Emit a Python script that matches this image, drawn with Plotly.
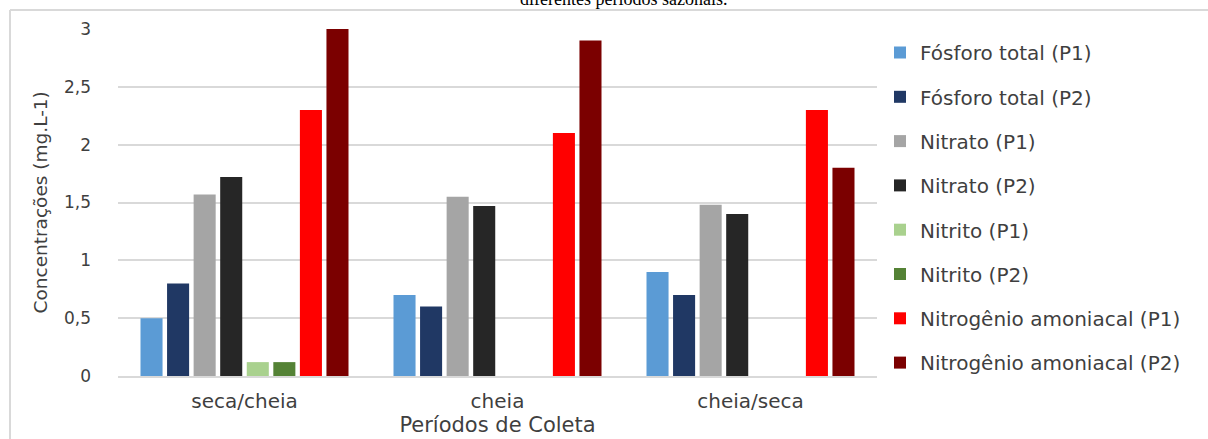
import plotly.graph_objects as go

# Sampling periods and measured concentrations (mg.L-1)
periodos = ["seca/cheia", "cheia", "cheia/seca"]

fosforo_p1 = [0.5, 0.7, 0.9]
fosforo_p2 = [0.8, 0.6, 0.7]
nitrato_p1 = [1.57, 1.55, 1.48]
nitrato_p2 = [1.72, 1.47, 1.40]
nitrito_p1 = [0.12, 0, 0]
nitrito_p2 = [0.12, 0, 0]
amoniacal_p1 = [2.3, 2.1, 2.3]
amoniacal_p2 = [3.0, 2.9, 1.8]

tick_vals = [0, 0.5, 1, 1.5, 2, 2.5, 3]
tick_text = ["0", "0,5", "1", "1,5", "2", "2,5", "3"]

series = [
    ("Fósforo total (P1)", fosforo_p1, "#5B9BD5"),
    ("Fósforo total (P2)", fosforo_p2, "#203864"),
    ("Nitrato (P1)", nitrato_p1, "#A5A5A5"),
    ("Nitrato (P2)", nitrato_p2, "#262626"),
    ("Nitrito (P1)", nitrito_p1, "#A9D18E"),
    ("Nitrito (P2)", nitrito_p2, "#548235"),
    ("Nitrogênio amoniacal (P1)", amoniacal_p1, "#FF0000"),
    ("Nitrogênio amoniacal (P2)", amoniacal_p2, "#7B0000"),
]

FONT = "DejaVu Sans"
TXT = "#3F3F3F"

fig = go.Figure()
for i, (name, vals, color) in enumerate(series):
    fig.add_trace(go.Bar(
        name=name, x=periodos, y=vals,
        marker=dict(color=color, line=dict(width=0)),
        legendgroup=f"g{i}",
    ))

W, H = 1208, 439
L, R, T, B = 118, 331, 29, 63
PW, PH = W - L - R, H - T - B

LEG_SIZE = 20
fig.update_layout(
    width=W, height=H,
    margin=dict(l=L, r=R, t=T, b=B),
    paper_bgcolor="white", plot_bgcolor="white",
    barmode="group", bargap=0.16, bargroupgap=0.17,
    font=dict(family=FONT, color=TXT),
    showlegend=True,
    legend=dict(
        x=1 + 3 / PW, xanchor="left", y=1 - 4 / PH, yanchor="top",
        font=dict(size=LEG_SIZE, color=TXT, family=FONT),
        tracegroupgap=44.3 - (LEG_SIZE * 1.3 + 3), traceorder="grouped",
        bgcolor="rgba(0,0,0,0)",
        itemwidth=30, maxheight=430,
    ),
    xaxis=dict(
        showgrid=False, showline=True, linecolor="#D9D9D9", linewidth=1.5,
        ticks="", tickfont=dict(size=20, color=TXT, family=FONT),
        ticklabelstandoff=6,
        title=dict(text="Períodos de Coleta", font=dict(size=21, color=TXT, family=FONT), standoff=0),
    ),
    yaxis=dict(
        range=[0, 3], tickvals=tick_vals, ticktext=tick_text,
        showgrid=True, gridcolor="#D9D9D9", gridwidth=1.5,
        zeroline=False, showline=False, ticks="",
        tickfont=dict(size=17, color=TXT, family=FONT),
        ticklabelstandoff=26,
    ),
)

# Y axis title
fig.add_annotation(
    text="Concentrações (mg.L-1)", textangle=-90,
    xref="paper", yref="paper",
    x=(40 - L) / PW, y=0.5, xanchor="center", yanchor="middle",
    showarrow=False, font=dict(size=18.5, color=TXT, family=FONT),
)

# Caption line above the chart frame
fig.add_annotation(
    text="diferentes períodos sazonais.",
    xref="paper", yref="paper",
    x=(623 - L) / PW, y=1 + (T + 1) / PH,
    xanchor="center", yanchor="middle", showarrow=False,
    font=dict(size=18, color="black", family="Liberation Serif"),
)

# Chart frame (top and left edges)
fig.add_shape(type="line", xref="paper", yref="paper",
              x0=(10 - L) / PW, x1=(W - L) / PW,
              y0=1 + (T - 10) / PH, y1=1 + (T - 10) / PH,
              line=dict(color="#D9D9D9", width=2))
fig.add_shape(type="line", xref="paper", yref="paper",
              x0=(10 - L) / PW, x1=(10 - L) / PW,
              y0=1 + (T - 10) / PH, y1=-(B + 5) / PH,
              line=dict(color="#D9D9D9", width=2))

fig.write_html("out.html")
